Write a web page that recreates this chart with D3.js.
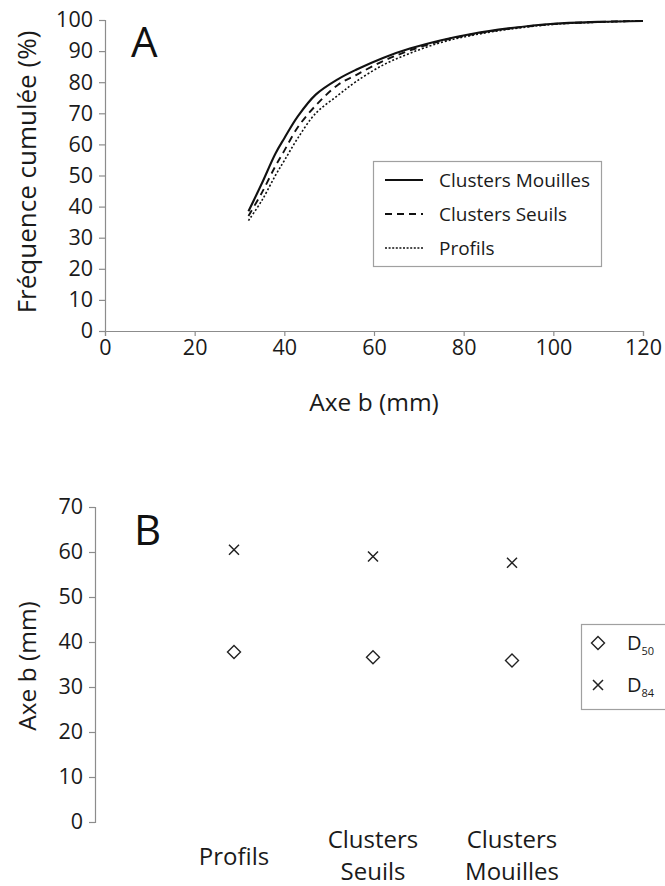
<!DOCTYPE html>
<html><head><meta charset="utf-8">
<script src="https://cdn.jsdelivr.net/npm/d3@7"></script>
<style>
html,body{margin:0;padding:0;background:#fff;}
svg{display:block;font-family:"Open Sans",sans-serif;}
</style></head>
<body>
<script>
// ---- Panel A data ----
const sizeMM = [32, 35, 38, 40, 43, 47, 52, 56, 62, 68, 75, 82, 90, 100, 110, 120];
const cumMouilles = [38.5, 47.5, 57, 62, 69, 76, 81, 84, 87.8, 90.8, 93.5, 95.6, 97.3, 98.8, 99.4, 99.7];
const cumSeuils   = [37, 44.5, 53, 58, 65.5, 72.5, 79.2, 82.3, 86.8, 90.2, 93.3, 95.4, 97.2, 98.7, 99.4, 99.7];
const cumProfils  = [35.5, 42, 50, 54.8, 62, 70, 75.8, 80.2, 85.5, 89.3, 92.8, 95.1, 97.0, 98.6, 99.3, 99.7];
const seriesNamesA = ["Clusters Mouilles", "Clusters Seuils", "Profils"];
const xTicksA = [0, 20, 40, 60, 80, 100, 120];
const yTicksA = [0, 10, 20, 30, 40, 50, 60, 70, 80, 90, 100];

// ---- Panel B data ----
const categoriesB = [["Profils"], ["Clusters", "Seuils"], ["Clusters", "Mouilles"]];
const d50 = [37.8, 36.6, 35.9];
const d84 = [60.5, 59.0, 57.6];
const yTicksB = [0, 10, 20, 30, 40, 50, 60, 70];

const W = 665, H = 886;
const svg = d3.select("body").append("svg").attr("width", W).attr("height", H);
const axisCol = "#8c8c8c", textCol = "#1a1a1a";

// ===== Panel A =====
const xA = d3.scaleLinear().domain([0, 120]).range([105, 643]);
const yA = d3.scaleLinear().domain([0, 100]).range([331, 20]);
const gA = svg.append("g");

const yAxA = gA.append("g").attr("transform", `translate(${xA(0)},0)`)
  .call(d3.axisLeft(yA).tickValues(yTicksA).tickSize(6).tickPadding(6).tickFormat(d3.format("d")));
const xAxA = gA.append("g").attr("transform", `translate(0,${yA(0)})`)
  .call(d3.axisBottom(xA).tickValues(xTicksA).tickSize(5).tickPadding(4).tickFormat(d3.format("d")));
[yAxA, xAxA].forEach(a => {
  a.selectAll("path,line").attr("stroke", axisCol).attr("stroke-width", 1.2);
  a.selectAll("text").attr("fill", textCol).style("font-size", "21.5px").style("font-family", "Open Sans");
});

gA.append("text").attr("x", 374).attr("y", 411).attr("text-anchor", "middle")
  .attr("fill", textCol).style("font-size", "24.5px").text("Axe b (mm)");
gA.append("text").attr("transform", "translate(36,172) rotate(-90)").attr("text-anchor", "middle")
  .attr("fill", textCol).style("font-size", "26px").text("Fréquence cumulée (%)");
gA.append("text").attr("x", 131).attr("y", 57).attr("fill", "#111").style("font-size", "42px").text("A");

const styles = [
  {dash: null, w: 2.1},
  {dash: "7,5", w: 1.9},
  {dash: "2,2", w: 1.6}
];
const seriesA = [cumMouilles, cumSeuils, cumProfils];
const line = d3.line().x((d, i) => xA(sizeMM[i])).y(d => yA(d)).curve(d3.curveCatmullRom.alpha(0.5));
// draw Profils first so solid sits on top
[2, 1, 0].forEach(k => {
  gA.append("path").datum(seriesA[k]).attr("d", line).attr("fill", "none")
    .attr("stroke", "#111").attr("stroke-width", styles[k].w)
    .attr("stroke-dasharray", styles[k].dash);
});

// legend A
const legA = gA.append("g");
legA.append("rect").attr("x", 373.5).attr("y", 161.5).attr("width", 228).attr("height", 105)
  .attr("fill", "#fff").attr("stroke", "#a0a0a0").attr("stroke-width", 1.2);
seriesNamesA.forEach((n, k) => {
  const cy = 180 + k * 34;
  legA.append("line").attr("x1", 385).attr("x2", 423).attr("y1", cy).attr("y2", cy)
    .attr("stroke", "#111").attr("stroke-width", k === 2 ? 1.5 : 2)
    .attr("stroke-dasharray", k === 1 ? "7,5" : (k === 2 ? "2,1.6" : null));
  legA.append("text").attr("x", 439).attr("y", cy + 6.5).attr("fill", textCol)
    .style("font-size", "19px").text(n);
});

// ===== Panel B =====
const xB = d3.scaleLinear().domain([0, 4]).range([95, 651]);
const yB = d3.scaleLinear().domain([0, 70]).range([822, 507]);
const gB = svg.append("g");
const yAxB = gB.append("g").attr("transform", `translate(${xB(0)},0)`)
  .call(d3.axisLeft(yB).tickValues(yTicksB).tickSize(6).tickPadding(6).tickFormat(d3.format("d")));
yAxB.selectAll("path,line").attr("stroke", axisCol).attr("stroke-width", 1.2);
yAxB.selectAll("text").attr("fill", textCol).style("font-size", "21.5px").style("font-family", "Open Sans");

gB.append("text").attr("transform", "translate(36,666) rotate(-90)").attr("text-anchor", "middle")
  .attr("fill", textCol).style("font-size", "24.5px").text("Axe b (mm)");
gB.append("text").attr("x", 134).attr("y", 545).attr("fill", "#111").style("font-size", "42px").text("B");

categoriesB.forEach((lines, i) => {
  const cx = xB(i + 1);
  const t = gB.append("text").attr("text-anchor", "middle").attr("fill", textCol).style("font-size", "24px");
  if (lines.length === 1) {
    t.append("tspan").attr("x", cx).attr("y", 865).text(lines[0]);
  } else {
    t.append("tspan").attr("x", cx).attr("y", 848).text(lines[0]);
    t.append("tspan").attr("x", cx).attr("y", 880).text(lines[1]);
  }
});

const diamond = (g, cx, cy) => g.append("path")
  .attr("d", `M${cx},${cy - 6.5}L${cx + 6.5},${cy}L${cx},${cy + 6.5}L${cx - 6.5},${cy}Z`)
  .attr("fill", "#fff").attr("stroke", "#222").attr("stroke-width", 1.4);
const cross = (g, cx, cy) => g.append("path")
  .attr("d", `M${cx - 5},${cy - 5}L${cx + 5},${cy + 5}M${cx - 5},${cy + 5}L${cx + 5},${cy - 5}`)
  .attr("stroke", "#222").attr("stroke-width", 1.5);

d50.forEach((v, i) => diamond(gB, xB(i + 1), yB(v)));
d84.forEach((v, i) => cross(gB, xB(i + 1), yB(v)));

// legend B
const legB = gB.append("g");
legB.append("rect").attr("x", 581.5).attr("y", 624.5).attr("width", 100).attr("height", 85)
  .attr("fill", "#fff").attr("stroke", "#a0a0a0").attr("stroke-width", 1.2);
diamond(legB, 598, 643);
cross(legB, 598, 685);
[["D", "50", 643], ["D", "84", 685]].forEach(([m, s, cy]) => {
  const t = legB.append("text").attr("x", 627).attr("y", cy + 7).attr("fill", textCol).style("font-size", "20px");
  t.append("tspan").text(m);
  t.append("tspan").attr("dy", 5).style("font-size", "11px").text(s);
});
</script>
</body></html>
